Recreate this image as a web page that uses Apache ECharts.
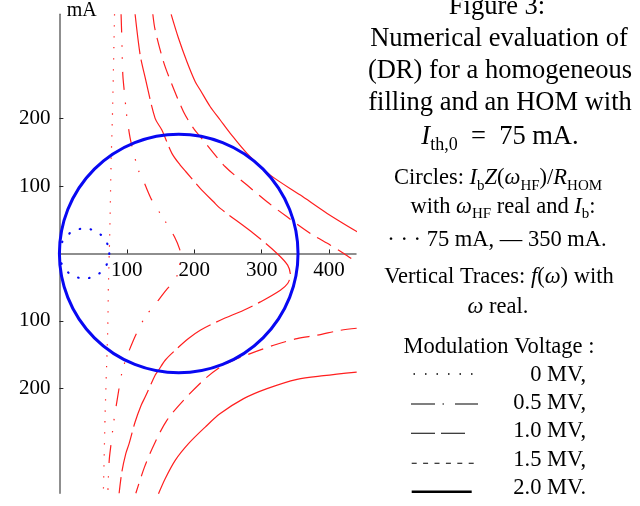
<!DOCTYPE html>
<html>
<head>
<meta charset="utf-8">
<script src="https://cdn.jsdelivr.net/npm/echarts@6/dist/echarts.min.js"></script>
<style>
  html, body { margin: 0; padding: 0; background: #fff; }
  #chart { width: 640px; height: 506px; }
</style>
</head>
<body>
<div id="chart"></div>
<script>
// ticks (mA) -- the negative side is labelled without a sign in the figure
const xTickValues = [100, 200, 300, 400];
const xTickLabels = ['100', '200', '300', '400'];
const yTickValues = [-200, -100, 100, 200];
const yTickLabels = ['200', '100', '100', '200'];

// circles Ib*Z/R_HOM : [centre x, centre y, radius]
const circle350 = [[177, 0, 177]];
const circle75 = [[37, 0, 37]];

// vertical traces f(w), one per modulation voltage
const v00 = [[81.8, 355], [78.6, 201], [76.7, 136], [75.2, 54], [74.1, 5], [72.7, -50], [71.8, -109],
  [70.3, -158], [67.8, -240], [66.7, -289], [65.2, -356]];
const v05 = [[91.5, 355], [92.6, 319.5], [94.1, 265], [97.5, 228.8], [99, 211.4], [103.7, 178.3],
  [106.6, 163.4], [112.5, 140], [117.2, 123.8], [126.2, 104], [137.1, 79.2], [149.5, 59.4],
  [158.4, 45.5], [170.7, 24.7], [178.5, 6], [180, -4], [178, -18], [172.8, -37.1], [158.4, -54.5],
  [141, -76.8], [127.2, -94.2], [118.7, -110], [109.8, -128.8], [99, -156], [92.6, -177.4],
  [86, -215.5], [81.6, -242.8], [78.6, -266], [76.7, -282.3], [74.1, -304.6], [72.7, -332], [71.8, -356]];
const v10 = [[112.3, 355], [119.8, 294.7], [127, 262], [142, 200.6], [152, 183.2], [166.9, 148.6],
  [179.2, 131.2], [187.7, 121.3], [208.9, 96.6], [228.7, 76.7], [238.6, 66.9], [288.1, 29.7],
  [322.9, 0], [338.6, -17.4], [342.7, -32.2], [338.6, -44.6], [327.8, -54.5], [298.1, -71.9],
  [273.3, -84.2], [238.6, -99.1], [208.9, -114], [191.5, -126.3], [171.8, -143.7], [156.9, -158.5],
  [147, -173.4], [142, -180.8], [127.2, -213.1], [121.3, -225.4], [112.3, -250.2], [103.4, -282.3],
  [98.5, -297.2], [92.6, -324.5], [88.6, -356]];
const v15Upper = [[138.6, 355], [142, 331.8], [154.4, 284.7], [164.3, 257.5], [184.1, 210.4],
  [199, 185.7], [208.9, 173.3], [246.1, 128.7], [278.3, 101.5], [308, 76.7], [337.7, 54.4],
  [372.4, 29.7], [402.1, 12.3], [421.9, 0], [441, -13]];
const v15Lower = [[441, -111], [417, -114], [382.3, -121.4], [352.6, -126.3], [317.8, -136.3],
  [283.2, -148.6], [258.4, -158.5], [238.6, -168.5], [216, -186], [184.1, -218], [159.4, -247.7],
  [141, -282.3], [126.2, -317.1], [113.4, -356]];
const v20Upper = [[165.8, 355], [176.7, 319.5], [189.2, 284.7], [201.5, 255], [208.9, 242.6],
  [223.8, 217.8], [238.6, 198.1], [253.5, 178.3], [278.3, 148.6], [312.9, 116.3], [357.5, 86.6],
  [397.2, 59.4], [441.8, 32.1]];
const v20Lower = [[441, -176], [392.1, -181.3], [352.6, -186.8], [308, -200.6], [273.3, -215.5],
  [238.6, -237.7], [216.3, -257.7], [191.5, -282.3], [171.8, -307.1], [156.9, -334.3], [147, -356.6]];

const SERIF = '"Liberation Serif", "Times New Roman", serif';
const RED = '#ff1f1f';
const BLUE = '#0808f2';
const Y_MIN = -356, Y_MAX = 355;

const chart = echarts.init(document.getElementById('chart'));

function circleRenderer(color, width, dash) {
  return function (params, api) {
    const c = api.coord([api.value(0), api.value(1)]);
    const r = api.size([api.value(2), 0])[0];
    return {
      type: 'circle',
      shape: { cx: c[0], cy: c[1], r: r },
      style: { fill: 'none', stroke: color, lineWidth: width, lineDash: dash, lineCap: 'round' }
    };
  };
}

function trace(name, data, type) {
  return {
    name: name,
    type: 'line',
    data: data,
    symbol: 'none',
    smooth: 0.3,
    z: 2,
    lineStyle: { color: RED, width: 1.2, type: type }
  };
}

function rich(size) {
  const sub = Math.round(size * 0.68);
  return {
    i: { fontSize: size, fontFamily: SERIF, fontStyle: 'italic', lineHeight: size + 8, fill: '#000' },
    s: { fontSize: sub, fontFamily: SERIF, lineHeight: sub, verticalAlign: 'bottom', fill: '#000' }
  };
}

function textLine(str, x, baseline, size, align) {
  return {
    type: 'text', x: x, y: baseline - size * 0.3, silent: true,
    style: {
      text: str, fill: '#000', fontSize: size, fontFamily: SERIF, lineHeight: size + 8,
      textAlign: align || 'center', textVerticalAlign: 'middle', rich: rich(size)
    }
  };
}

function sample(x1, x2, y, width, dash) {
  return {
    type: 'line', silent: true,
    shape: { x1: x1, y1: y, x2: x2, y2: y },
    style: { stroke: '#000', lineWidth: width, lineDash: dash }
  };
}

const CAP = 26.5, TXT = 22.5;

const option = {
  animation: false,
  backgroundColor: '#fff',
  grid: { left: 59.4, top: 14.3, width: 296.6, height: 479, outerBoundsMode: 'none' },
  xAxis: {
    type: 'value', min: 0, max: 440, position: 'bottom', offset: 0,
    splitLine: { show: false },
    axisLine: { onZero: false, lineStyle: { color: '#6a6a6a', width: 1.5 } },
    axisTick: { inside: true, length: 4, customValues: xTickValues, lineStyle: { color: '#222' } },
    axisLabel: {
      customValues: xTickValues, margin: 7, color: '#000', fontFamily: SERIF, fontSize: 21,
      formatter: v => xTickLabels[xTickValues.indexOf(v)]
    }
  },
  yAxis: {
    type: 'value', min: Y_MIN, max: Y_MAX,
    splitLine: { show: false },
    axisLine: { onZero: true, lineStyle: { color: '#6a6a6a', width: 1.5 } },
    axisTick: { inside: true, length: 4, customValues: yTickValues, lineStyle: { color: '#222' } },
    axisLabel: {
      customValues: yTickValues, margin: 9, color: '#000', fontFamily: SERIF, fontSize: 21,
      formatter: v => yTickLabels[yTickValues.indexOf(v)]
    }
  },
  series: [
    trace('0 MV', v00, [1.3, 9.7]),
    trace('0.5 MV', v05, [18, 13, 1.5, 10.5, 1.5, 13]),
    trace('1.0 MV', v10, [40, 6]),
    trace('1.5 MV', v15Upper, [16, 8]),
    trace('1.5 MV', v15Lower, [16, 8]),
    trace('2.0 MV', v20Upper, 'solid'),
    trace('2.0 MV', v20Lower, 'solid'),
    { name: '350 mA', type: 'custom', data: circle350, z: 3, renderItem: circleRenderer(BLUE, 3, null) },
    { name: '75 mA', type: 'custom', data: circle75, z: 3, renderItem: circleRenderer(BLUE, 2.2, [0.5, 10.7]) }
  ],
  graphic: [
    { type: 'text', x: 66.7, y: 11, silent: true,
      style: { text: 'mA', fill: '#000', fontSize: 20, fontFamily: SERIF, textVerticalAlign: 'middle' } },

    textLine('Figure 3:', 497, 15, CAP),
    textLine('Numerical evaluation of', 499, 47, CAP),
    textLine('(DR) for a homogeneous', 500, 79, CAP),
    textLine('filling and an HOM with', 500, 111, CAP),
    textLine('{i|I}{s|th,0}  =  75 mA.', 500, 145, CAP),

    textLine('Circles: {i|I}{s|b}{i|Z}({i|ω}{s|HF})/{i|R}{s|HOM}', 498, 185, TXT),
    textLine('with {i|ω}{s|HF} real and {i|I}{s|b}:', 503, 213.5, TXT),
    textLine('· · · 75 mA, — 350 mA.', 497, 247, TXT),
    textLine('Vertical Traces: {i|f}({i|ω}) with', 499, 283.5, TXT),
    textLine('{i|ω} real.', 498, 313.5, TXT),
    textLine('Modulation Voltage :', 499, 353.5, TXT),

    textLine('0 MV,', 586, 381.7, TXT, 'right'),
    textLine('0.5 MV,', 586, 410, TXT, 'right'),
    textLine('1.0 MV,', 586, 438.3, TXT, 'right'),
    textLine('1.5 MV,', 586, 466.7, TXT, 'right'),
    textLine('2.0 MV.', 586, 495, TXT, 'right'),

    sample(413.5, 474, 374, 1.5, [1.5, 10]),
    sample(411, 478, 404, 1.1, [24, 7.5, 1.5, 11, 23, 100]),
    sample(411, 465, 433.3, 1.1, [24, 6, 24, 100]),
    sample(411.7, 474, 463.3, 1.1, [5, 6.4]),
    sample(411.7, 471.7, 491.7, 2.6, null)
  ]
};

chart.setOption(option);

// keep the x axis (line, ticks and labels) on y = 0, as in the figure
const yZero = chart.convertToPixel({ yAxisIndex: 0 }, 0);
const yBottom = chart.convertToPixel({ yAxisIndex: 0 }, Y_MIN);
chart.setOption({ xAxis: { offset: -(yBottom - yZero) } });
</script>
</body>
</html>
